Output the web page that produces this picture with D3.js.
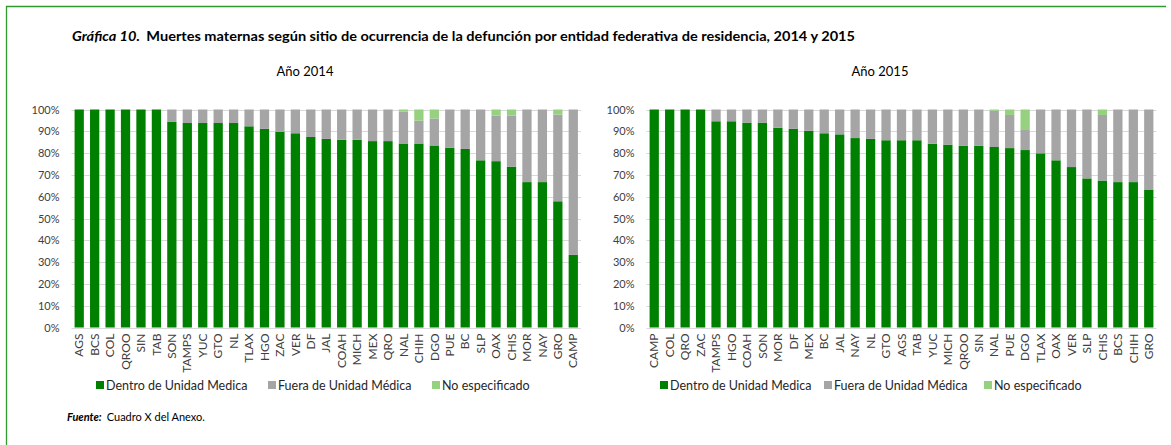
<!DOCTYPE html>
<html>
<head>
<meta charset="utf-8">
<script src="https://cdn.jsdelivr.net/npm/d3@7"></script>
<style>
  html, body { margin: 0; padding: 0; background: #fff; }
  svg { display: block; font-family: Lato, "Open Sans", sans-serif; }
</style>
</head>
<body>
<svg id="chart" width="1171" height="445"></svg>
<script>
// Entidades federativas, ordenadas por porcentaje dentro de unidad médica
const states2014 = ["AGS","BCS","COL","QROO","SIN","TAB","SON","TAMPS","YUC","GTO","NL","TLAX","HGO","ZAC","VER","DF","JAL","COAH","MICH","MEX","QRO","NAL","CHIH","DGO","PUE","BC","SLP","OAX","CHIS","MOR","NAY","GRO","CAMP"];
const dentro2014 = [100,100,100,100,100,100,94.3,93.8,93.8,93.8,93.8,92.3,91.1,89.7,89.1,87.4,86.5,86.1,86.1,85.5,85.5,84.4,84.4,83.5,82.5,81.9,76.7,76.3,73.8,66.7,66.7,57.9,33.3];
const noEsp2014  = [0,0,0,0,0,0,0,0,0,0,0,0,0,0,0,0,0,0,0,0,0,0.9,5.1,4.1,0,0,0,2.8,2.8,0,0,2.3,0];
const fuera2014  = [0,0,0,0,0,0,5.7,6.2,6.2,6.2,6.2,7.7,8.9,10.3,10.9,12.6,13.5,13.9,13.9,14.5,14.5,14.7,10.5,12.4,17.5,18.1,23.3,20.9,23.4,33.3,33.3,39.8,66.7];

const states2015 = ["CAMP","COL","QRO","ZAC","TAMPS","HGO","COAH","SON","MOR","DF","MEX","BC","JAL","NAY","NL","GTO","AGS","TAB","YUC","MICH","QROO","SIN","NAL","PUE","DGO","TLAX","OAX","VER","SLP","CHIS","BCS","CHIH","GRO"];
const dentro2015 = [100,100,100,100,94.6,94.6,94.0,94.0,91.6,91.1,90.2,89.1,88.6,86.9,86.5,85.9,85.9,85.9,84.3,83.9,83.3,83.3,82.8,82.3,81.4,79.9,76.7,73.6,68.4,67.4,66.7,66.7,63.3];
const noEsp2015  = [0,0,0,0,0,0,0,0,0,0,0,0,0,0,0,0,0,0,0,0,0,0,0.6,2.5,9.4,0,0,0,0,2.5,0,0,0];
const fuera2015  = [0,0,0,0,5.4,5.4,6.0,6.0,8.4,8.9,9.8,10.9,11.4,13.1,13.5,14.1,14.1,14.1,15.7,16.1,16.7,16.7,16.6,15.2,9.2,20.1,23.3,26.4,31.6,30.1,33.3,33.3,36.7];

const seriesNames = ["Dentro de Unidad Medica","Fuera de Unidad Médica","No especificado"];
const seriesKeys = ["dentro","fuera","noEsp"];
const seriesColors = ["#008000","#a5a5a5","#95d17f"];
const yTicks = [0,10,20,30,40,50,60,70,80,90,100];

const svg = d3.select("#chart");
const color = d3.scaleOrdinal().domain(seriesKeys).range(seriesColors);

// Marco verde
svg.append("line").attr("x1",6).attr("x2",1166).attr("y1",6.5).attr("y2",6.5)
  .attr("stroke","#2f9a2f").attr("stroke-width",1.3);
svg.append("line").attr("x1",6.5).attr("x2",6.5).attr("y1",6).attr("y2",445)
  .attr("stroke","#2f9a2f").attr("stroke-width",1.3);

// Título
const title = svg.append("text").attr("x",72).attr("y",41)
  .attr("font-size",13.5).attr("font-weight","bold").attr("fill","#000")
  .attr("textLength",783).attr("lengthAdjust","spacingAndGlyphs");
title.append("tspan").attr("font-style","italic").text("Gráfica 10.");
title.append("tspan").attr("dx",6).text("Muertes maternas según sitio de ocurrencia de la defunción por entidad federativa de residencia, 2014 y 2015");

function drawPanel(cfg) {
  const rows = cfg.states.map((s,i) => ({state:s, dentro:cfg.dentro[i], fuera:cfg.fuera[i], noEsp:cfg.noEsp[i]}));
  const x = d3.scaleBand().domain(cfg.states).range([cfg.x0, cfg.x1]).paddingInner(0.4).paddingOuter(0.2);
  const y = d3.scaleLinear().domain([0,100]).range([cfg.yb, cfg.yt]);
  const g = svg.append("g");

  g.append("text").attr("x",cfg.titleX).attr("y",76).attr("text-anchor","middle")
    .attr("font-size",13).attr("fill","#000").text(cfg.title);

  // Líneas de cuadrícula
  g.append("g").selectAll("line").data(yTicks).join("line")
    .attr("x1",cfg.x0).attr("x2",cfg.x1)
    .attr("y1",d => Math.round(y(d))+0.5).attr("y2",d => Math.round(y(d))+0.5)
    .attr("stroke","#d9d9d9").attr("stroke-width",1);

  // Barras apiladas
  const stacked = d3.stack().keys(seriesKeys)(rows);
  g.append("g").selectAll("g").data(stacked).join("g")
    .attr("fill", d => color(d.key))
    .selectAll("rect").data(d => d).join("rect")
    .attr("x", d => x(d.data.state))
    .attr("width", x.bandwidth())
    .attr("y", d => y(d[1]))
    .attr("height", d => Math.max(0, y(d[0]) - y(d[1])));

  // Eje Y
  const yAxis = g.append("g").attr("transform",`translate(${cfg.x0},0)`)
    .call(d3.axisLeft(y).tickValues(yTicks).tickSize(0).tickPadding(12).tickFormat(d => d + "%"));
  yAxis.select(".domain").remove();
  yAxis.selectAll("text").attr("font-size",11).attr("fill","#404040").attr("font-family","Lato, sans-serif");

  // Eje X
  const xAxis = g.append("g").attr("transform",`translate(0,${cfg.yb})`)
    .call(d3.axisBottom(x).tickSize(0).tickPadding(0));
  xAxis.select(".domain").remove();
  xAxis.selectAll("text")
    .attr("font-size",12).attr("fill","#404040").attr("font-family","Lato, sans-serif")
    .attr("text-anchor","end")
    .attr("transform","rotate(-90)")
    .attr("x",-6).attr("y",0).attr("dy","0.35em");

  // Leyenda
  const leg = g.append("g").selectAll("g").data(seriesKeys).join("g")
    .attr("transform",(d,i) => `translate(${cfg.legendX[i]},381)`);
  leg.append("rect").attr("width",8).attr("height",8).attr("fill", d => color(d));
  leg.append("text").attr("x",10).attr("y",8.5).attr("font-size",12.5).attr("fill","#262626")
    .text((d,i) => seriesNames[i]);
}

drawPanel({title:"Año 2014", titleX:305, states:states2014, dentro:dentro2014, fuera:fuera2014, noEsp:noEsp2014,
  x0:71.5, x1:581, yt:109.5, yb:327.5, legendX:[96,268,432]});
drawPanel({title:"Año 2015", titleX:880, states:states2015, dentro:dentro2015, fuera:fuera2015, noEsp:noEsp2015,
  x0:646.5, x1:1156.5, yt:109.5, yb:327.5, legendX:[660,824,984]});

// Fuente
const src = svg.append("text").attr("x",67).attr("y",421).attr("font-size",11).attr("fill","#000");
src.append("tspan").attr("font-weight","bold").attr("font-style","italic").text("Fuente:");
src.append("tspan").attr("dx",5).text("Cuadro X del Anexo.");
</script>
</body>
</html>
